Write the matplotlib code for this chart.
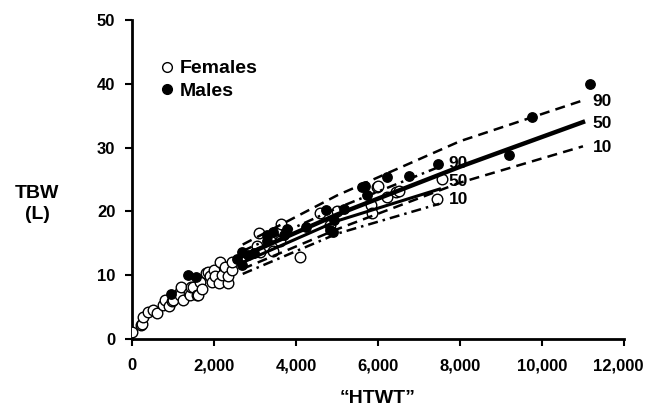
"""TBW vs HTWT scatter with percentile lines for females and males."""

import matplotlib

matplotlib.use("Agg")
import matplotlib.pyplot as plt
import matplotlib.transforms as mtransforms
from matplotlib.lines import Line2D

plt.rcParams["font.family"] = ["Liberation Sans", "DejaVu Sans"]
plt.rcParams["font.weight"] = "bold"

# Females (open circles)
fem_x = [0, 227, 240, 269, 400, 513, 600, 758, 798, 890, 970, 1002, 1165, 1170, 1205,
         1240, 1380, 1409, 1430, 1491, 1580, 1612, 1653, 1700, 1810, 1857, 1910, 1939,
         1990, 2020, 2110, 2150, 2190, 2270, 2350, 2350, 2440, 2440, 3050, 3090, 3130,
         3450, 3540, 3620, 3640, 4090, 4590, 4840, 5000, 5830, 5860, 5980, 6000, 6210,
         6430, 6510, 7450, 7570]
fem_y = [1.1, 2.2, 2.4, 3.5, 4.3, 4.5, 4.0, 5.3, 6.1, 5.1, 5.9, 6.1, 7.4, 6.9, 8.2,
         6.1, 7.2, 6.9, 8.2, 8.2, 6.9, 6.9, 9.0, 7.9, 10.3, 10.5, 9.8, 9.0,
         10.8, 9.8, 8.7, 12.1, 10.0, 11.3, 8.7, 9.8, 10.8, 12.1, 14.5, 16.6, 13.7,
         13.8, 16.6, 15.3, 18.1, 12.9, 19.7, 17.9, 20.0, 21.0, 19.8, 23.8, 24.0, 22.3,
         23.1, 23.2, 21.9, 25.0]

# Males (filled circles)
male_x = [961, 1368, 1572, 2560, 2680, 2680, 2840, 2970, 3290, 3290, 3450, 3700, 3780,
          4250, 4720, 4840, 4900, 4920, 5170, 5610, 5690, 5740, 6220, 6750, 7460, 9200,
          9750, 11180]
male_y = [7.1, 10.0, 9.7, 12.6, 11.6, 13.7, 13.2, 13.4, 15.3, 16.3, 16.8, 16.3, 17.2,
          17.6, 20.2, 17.1, 16.8, 18.7, 20.3, 23.8, 24.0, 22.6, 25.4, 25.5, 27.4, 28.8,
          34.8, 40.0]

# Percentile lines
male_line_x = [2700, 5000, 8000, 11000]
male_p90 = [14.8, 22.5, 31.0, 37.4]
male_p50 = [13.0, 19.5, 27.0, 34.0]
male_p10 = [11.0, 17.2, 24.5, 30.2]

fem_line_x = [2700, 5000, 7500]
fem_p90 = [13.8, 20.5, 27.0]
fem_p50 = [12.0, 18.5, 23.5]
fem_p10 = [10.2, 16.5, 21.2]

pct_labels = ["90", "50", "10"]

fig = plt.figure(figsize=(6.45, 4.2), dpi=100)
ax = fig.add_axes([0.2047, 0.1929, 0.7627, 0.7595])

ax.scatter(fem_x, fem_y, s=58, facecolors="white", edgecolors="black", linewidths=1.0, zorder=3)
ax.scatter(male_x, male_y, s=46, facecolors="black", edgecolors="black", linewidths=1.0, zorder=3)

dash = (0, (4, 2.5))
dashdot = (0, (4, 2, 1, 2))
ax.plot(male_line_x, male_p90, color="black", lw=1.8, ls=dash, zorder=4)
ax.plot(male_line_x, male_p50, color="black", lw=3.2, zorder=4)
ax.plot(male_line_x, male_p10, color="black", lw=1.8, ls=dash, zorder=4)
ax.plot(fem_line_x, fem_p90, color="black", lw=1.8, ls=dashdot, zorder=4)
ax.plot(fem_line_x, fem_p50, color="black", lw=2.2, zorder=4)
ax.plot(fem_line_x, fem_p10, color="black", lw=1.8, ls=dashdot, zorder=4)

for lab, yv in zip(pct_labels, [male_p90[-1] - 0.2, male_p50[-1] - 0.2, male_p10[-1] - 0.2]):
    ax.text(male_line_x[-1] + 230, yv, lab, fontsize=12.5, fontweight="bold", va="center", ha="left")
for lab, yv in zip(pct_labels, [fem_p90[-1] + 0.5, fem_p50[-1] + 1.2, fem_p10[-1] + 0.6]):
    ax.text(fem_line_x[-1] + 220, yv, lab, fontsize=12.5, fontweight="bold", va="center", ha="left")

ax.set_xlim(0, 12000)
ax.set_ylim(0, 50)
ax.set_xticks(range(0, 12001, 2000))
ax.set_xticklabels([f"{v:,}" for v in range(0, 12001, 2000)])
ax.set_yticks(range(0, 51, 10))
for side in ["top", "right"]:
    ax.spines[side].set_visible(False)
for side in ["left", "bottom"]:
    ax.spines[side].set_linewidth(2)
ax.tick_params(axis="both", direction="out", length=5, width=1.5, labelsize=12)
ax.tick_params(axis="x", pad=9)
ax.tick_params(axis="y", pad=7)
for t in ax.get_xticklabels() + ax.get_yticklabels():
    t.set_fontweight("bold")

# last x tick label sits a little left so it stays inside the figure
last = ax.get_xticklabels()[-1]
last.set_transform(last.get_transform() + mtransforms.ScaledTranslation(-6 / 100, 0, fig.dpi_scale_trans))

ax.set_xlabel("\u201cHTWT\u201d", fontsize=14, fontweight="bold", labelpad=12)
fig.text(0.058, 0.515, "TBW\n(L)", fontsize=14, fontweight="bold", ha="center", va="center",
         linespacing=1.3)

handles = [
    Line2D([], [], ls="none", marker="o", ms=7, mfc="white", mec="black", mew=1),
    Line2D([], [], ls="none", marker="o", ms=7, mfc="black", mec="black", mew=1),
]
ax.legend(handles, ["Females", "Males"], loc="upper left", bbox_to_anchor=(0.015, 0.93),
          frameon=False, handletextpad=0.2, handlelength=1.0, labelspacing=0.25,
          prop={"size": 14, "weight": "bold"})

fig.savefig("out.png", dpi=100)
